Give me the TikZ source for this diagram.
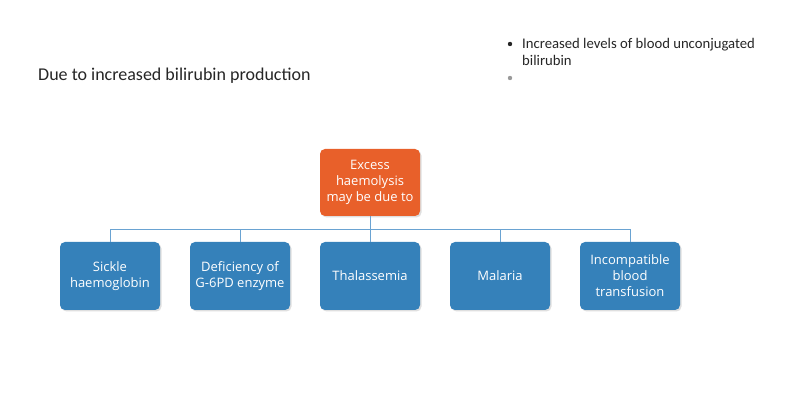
\documentclass[tikz,border=0pt]{standalone}
\usepackage{fontspec}
\setmainfont{Carlito}
\newfontfamily\boxfont{Open Sans}
\usetikzlibrary{shadows}
\definecolor{orangebox}{HTML}{E8602A}
\definecolor{bluebox}{HTML}{3581BA}
\definecolor{linkblue}{HTML}{6AA3D2}
\definecolor{bulletgray}{HTML}{9A9A9A}
\tikzset{
  x=1pt, y=-1pt,
  card/.style={rounded corners=5pt, minimum width=100pt, minimum height=67pt,
    text=white, align=center, font=\boxfont\fontsize{13}{16}\selectfont,
    drop shadow={shadow xshift=1.5pt, shadow yshift=-1.5pt, opacity=0.25}},
  topcard/.style={card, fill=orangebox},
  leafcard/.style={card, fill=bluebox, minimum height=68pt},
  link/.style={draw=linkblue, line width=1pt},
  plaintext/.style={inner sep=0pt, anchor=base west, text=black!85}
}
\begin{document}
\begin{tikzpicture}
\useasboundingbox (0,0) rectangle (800,419);
\fill[white] (0,0) rectangle (800,419);

\node[plaintext, font=\fontsize{18}{21}\selectfont] (title) at (38,81) {Due to increased bilirubin production};

\node[plaintext, font=\fontsize{14.7}{17}\selectfont] (b1) at (522,48.5) {Increased levels of blood unconjugated};
\node[plaintext, font=\fontsize{14.7}{17}\selectfont] (b1b) at (522,65.5) {bilirubin};
\fill[black!85] (510,44) circle (2.2pt);
\fill[bulletgray] (510,78) circle (2.2pt);

\node[topcard] (top) at (370,182.5) {Excess\\haemolysis\\may be due to};

\node[leafcard] (l1) at (110,276) {Sickle\\haemoglobin};
\node[leafcard] (l2) at (240,276) {Deficiency of\\G-6PD enzyme};
\node[leafcard] (l3) at (370,276) {Thalassemia};
\node[leafcard] (l4) at (500,276) {Malaria};
\node[leafcard] (l5) at (630,276) {Incompatible\\blood\\transfusion};

\coordinate (bus) at (370,230);
\draw[link] (top.south) -- (bus);
\foreach \n in {l1,l2,l3,l4,l5}{
  \draw[link] (bus) -| (\n.north);
}
\end{tikzpicture}
\end{document}
